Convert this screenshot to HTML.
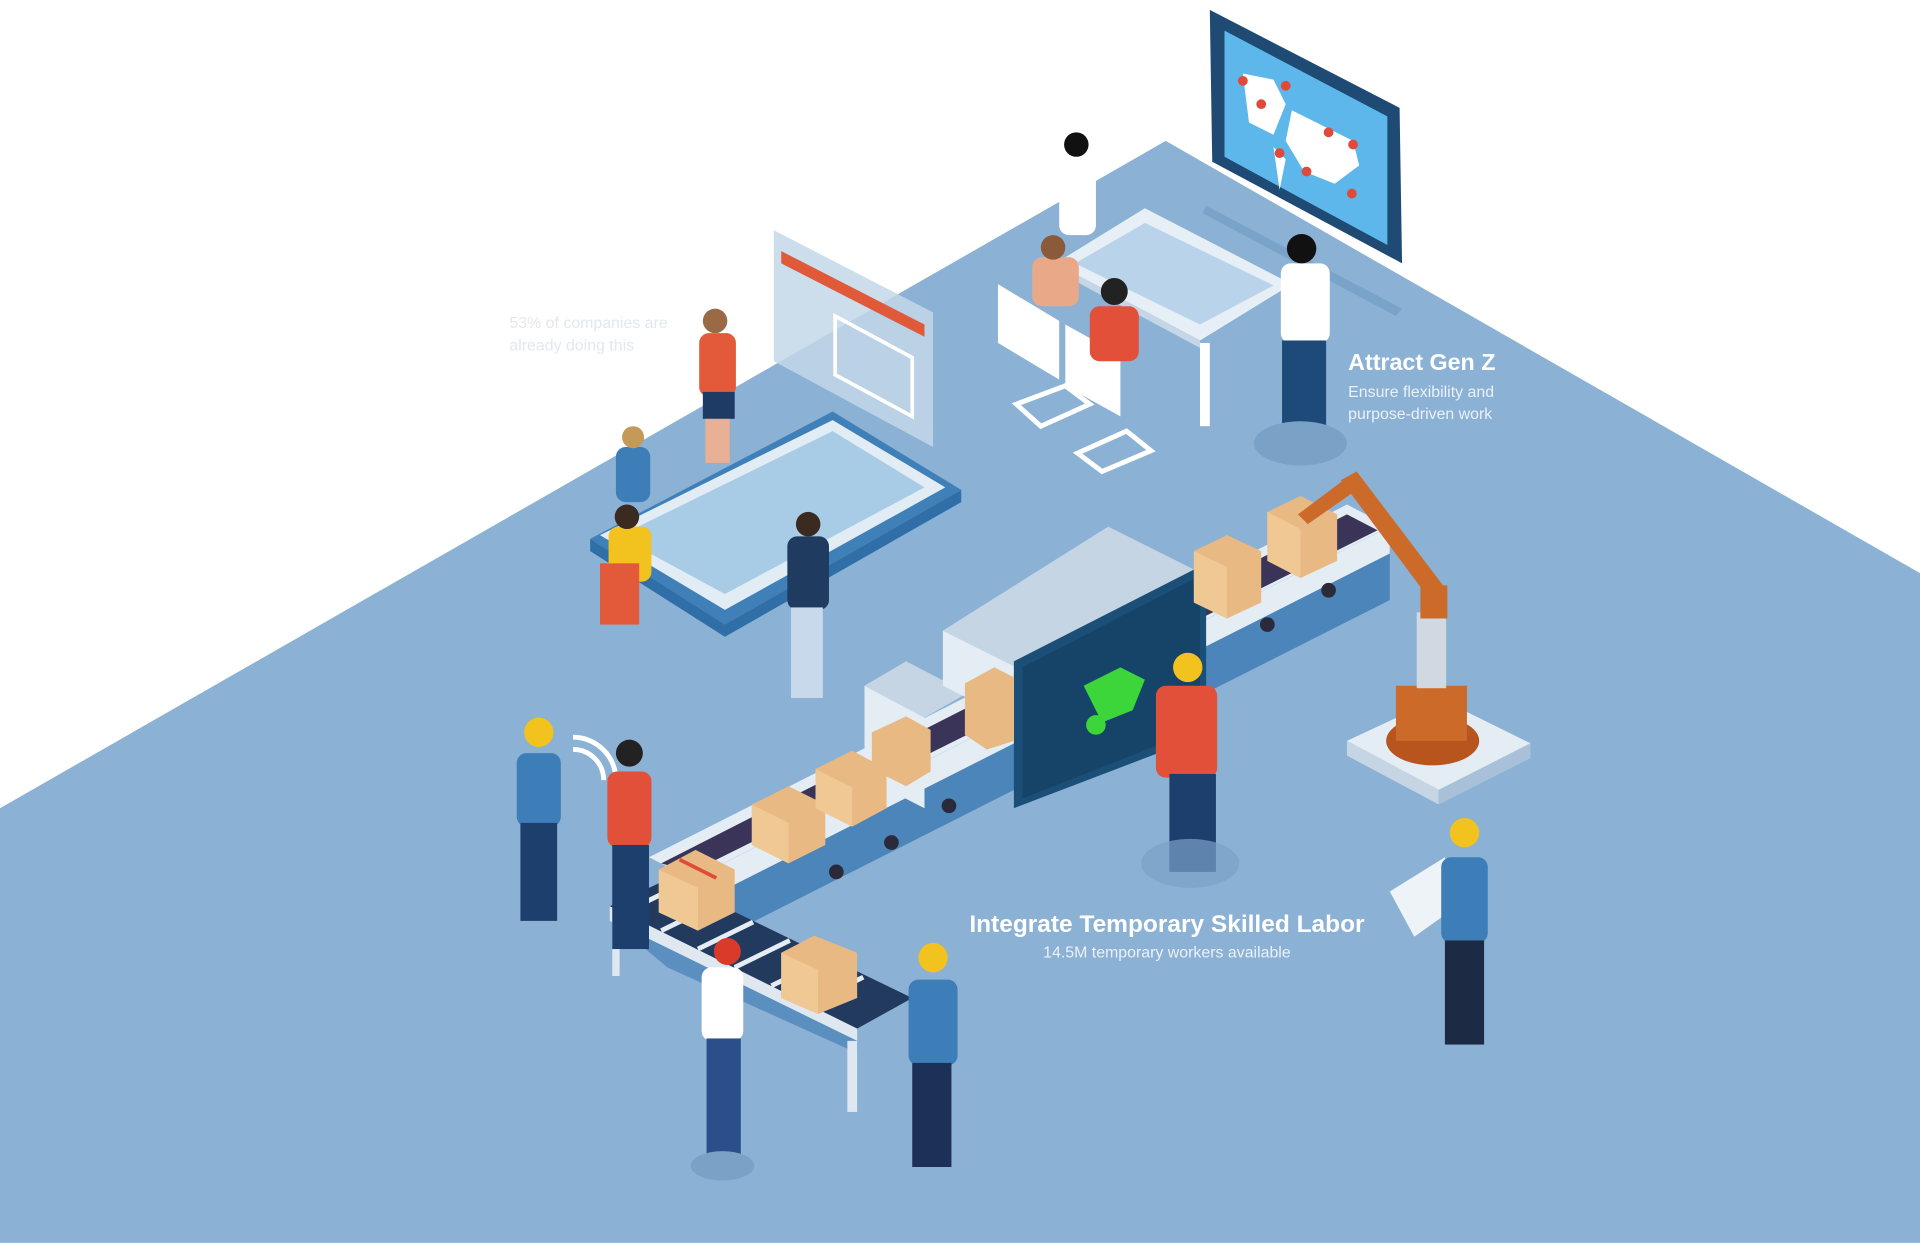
<!DOCTYPE html>
<html><head><meta charset="utf-8"><style>
html,body{margin:0;padding:0;background:#fff;}
svg{display:block;}
text{font-family:"Liberation Sans",sans-serif;}
</style></head><body>
<svg width="1920" height="1243" viewBox="0 0 1568 1015" xmlns="http://www.w3.org/2000/svg">
<rect width="1568" height="1015" fill="#fff"/>
<polygon points="952,115 1568,468 1568,1015 0,1015 0,660" fill="#8bb1d5"/>
<polygon points="985,168 1145,252 1140,258 982,174" fill="#7aa3c9"/>
<polygon points="988,8 1143,88 1145,215 990,132" fill="#1f4a73"/>
<polygon points="1000,25 1133,95 1133,200 1000,128" fill="#5db7ea"/>
<path d="M1015,60 l25,5 l10,20 l-10,25 l-20,-10 z M1055,90 l50,25 l5,20 l-20,15 l-25,-10 l-15,-25 z M1040,120 l10,10 l-5,25 z" fill="#fff"/>
<g fill="#e04a3a"><circle cx="1015" cy="66" r="4"/><circle cx="1050" cy="70" r="4"/><circle cx="1030" cy="85" r="4"/><circle cx="1085" cy="108" r="4"/><circle cx="1105" cy="118" r="4"/><circle cx="1045" cy="125" r="4"/><circle cx="1067" cy="140" r="4"/><circle cx="1104" cy="158" r="4"/></g>
<polygon points="862,215 935,170 1055,232 980,278" fill="#e6eef6"/>
<polygon points="878,215 935,182 1040,233 980,265" fill="#b9d4ea"/>
<polygon points="862,215 980,278 980,284 862,221" fill="#c5d6e6"/>
<rect x="980" y="280" width="8" height="68" fill="#fff"/>
<polygon points="815,232 865,262 865,310 815,280" fill="#fff"/>
<polygon points="870,265 915,290 915,340 870,315" fill="#fff"/>
<polygon points="830,330 870,315 890,330 850,348" fill="none" stroke="#fff" stroke-width="4"/>
<polygon points="880,370 920,352 940,368 900,385" fill="none" stroke="#fff" stroke-width="4"/>
<rect x="865" y="132" width="30" height="60" rx="8" fill="#fff"/><circle cx="879" cy="118" r="10" fill="#111"/>
<rect x="843" y="210" width="38" height="40" rx="8" fill="#e9a989"/><circle cx="860" cy="202" r="10" fill="#8a5a3a"/>
<rect x="890" y="250" width="40" height="45" rx="8" fill="#e2503a"/><circle cx="910" cy="238" r="11" fill="#222"/>
<rect x="1046" y="215" width="40" height="65" rx="8" fill="#fff"/><circle cx="1063" cy="203" r="12" fill="#111"/>
<rect x="1047" y="278" width="36" height="85" fill="#1d4a78"/>
<ellipse cx="1062" cy="362" rx="38" ry="18" fill="#7aa1c6"/>
<polygon points="632,188 762,255 762,365 632,295" fill="#c3d7e9" opacity="0.85"/>
<polygon points="638,205 755,265 755,275 638,215" fill="#e05a3a"/>
<polygon points="682,258 745,292 745,340 682,306" fill="none" stroke="#fff" stroke-width="3"/>
<rect x="571" y="272" width="30" height="52" rx="8" fill="#e35a3a"/><circle cx="584" cy="262" r="10" fill="#9a6a45"/>
<rect x="574" y="320" width="26" height="22" fill="#1e3b66"/>
<rect x="576" y="342" width="20" height="36" fill="#e8b095"/>
<polygon points="482,440 680,336 785,400 592,510" fill="#3f80b8"/>
<polygon points="490,437 680,343 772,398 592,498" fill="#e1ecf5"/>
<polygon points="505,438 680,352 755,398 592,485" fill="#a8cbe6"/>
<polygon points="592,510 785,400 785,410 592,520 482,450 482,440" fill="#2f6ea6"/>
<rect x="503" y="365" width="28" height="45" rx="8" fill="#3d7db8"/><circle cx="517" cy="357" r="9" fill="#c49a5a"/>
<rect x="497" y="430" width="35" height="45" rx="8" fill="#f2c21e"/><circle cx="512" cy="422" r="10" fill="#3a2a20"/>
<rect x="490" y="460" width="32" height="50" fill="#e35a3a"/>
<rect x="643" y="438" width="34" height="60" rx="8" fill="#1f3b60"/><circle cx="660" cy="428" r="10" fill="#3a2a20"/>
<rect x="646" y="496" width="26" height="74" fill="#c7d9ea"/>
<polygon points="530,700 1100,412 1135,430 565,718" fill="#e4ecf4"/>
<polygon points="540,705 1100,420 1125,433 565,712" fill="#3a3558"/>
<polygon points="565,718 1135,430 1135,490 565,778" fill="#4b85ba"/>
<polygon points="565,718 1135,430 1135,452 565,740" fill="#e4ecf4"/>
<g fill="#2a2a3a"><circle cx="683" cy="712" r="6"/><circle cx="728" cy="688" r="6"/><circle cx="775" cy="658" r="6"/><circle cx="1035" cy="510" r="6"/><circle cx="1085" cy="482" r="6"/></g>
<polygon points="498,740 545,718 745,815 700,840" fill="#213a5e"/>
<g stroke="#e4ecf4" stroke-width="4"><line x1="510" y1="745" x2="555" y2="723"/><line x1="540" y1="760" x2="585" y2="738"/><line x1="570" y1="775" x2="615" y2="753"/><line x1="600" y1="790" x2="645" y2="768"/><line x1="630" y1="805" x2="675" y2="783"/><line x1="660" y1="820" x2="705" y2="798"/></g>
<polygon points="498,740 700,840 700,850 498,752" fill="#dfe8f1"/>
<polygon points="500,752 700,850 700,860 545,790" fill="#5a8fc0"/>
<rect x="692" y="850" width="8" height="58" fill="#dfe8f1"/>
<rect x="500" y="752" width="6" height="45" fill="#dfe8f1"/>
<polygon points="706,560 740,540 790,566 755,586" fill="#c6d5e4"/>
<polygon points="706,560 755,586 755,660 706,635" fill="#e4ecf4"/>
<polygon points="770,515 905,430 985,470 850,555" fill="#c6d5e4"/>
<polygon points="770,515 850,555 850,600 770,560" fill="#e4ecf4"/>
<polygon points="828,540 985,460 985,600 828,660" fill="#1c4f78"/>
<polygon points="835,545 980,470 980,595 835,652" fill="#164468"/>
<path d="M885,560 l30,-15 l20,10 l-10,25 l-25,10 z" fill="#3dd63a"/>
<circle cx="895" cy="592" r="8" fill="#3dd63a"/>
<g>
<polygon points="538,710 568,694 600,710 600,745 570,760 538,745" fill="#e8b982"/><polygon points="538,710 570,725 570,760 538,745" fill="#f0c894"/><line x1="555" y1="702" x2="585" y2="717" stroke="#e04a3a" stroke-width="3"/>
<polygon points="614,657 644,642 674,657 674,690 644,705 614,690" fill="#e8b982"/><polygon points="614,657 644,672 644,705 614,690" fill="#f0c894"/>
<polygon points="666,628 696,613 724,628 724,660 696,675 666,660" fill="#e8b982"/><polygon points="666,628 696,643 696,675 666,660" fill="#f0c894"/>
<polygon points="712,598 740,585 760,596 760,630 740,642 712,628" fill="#e8b982"/>
<polygon points="788,558 812,545 828,553 828,605 806,612 788,600" fill="#e8b982"/>
<polygon points="975,450 1002,437 1030,450 1030,492 1002,505 975,492" fill="#e8b982"/><polygon points="975,450 1002,463 1002,505 975,492" fill="#f0c894"/>
<polygon points="1035,418 1062,405 1092,420 1092,458 1062,472 1035,458" fill="#e8b982"/><polygon points="1035,418 1062,432 1062,472 1035,458" fill="#f0c894"/>
<polygon points="638,778 665,764 700,778 700,815 668,828 638,815" fill="#e8b982"/><polygon points="638,778 668,792 668,828 638,815" fill="#f0c894"/>
</g>
<polygon points="1100,605 1175,570 1250,607 1175,645" fill="#e4ecf4"/>
<polygon points="1100,605 1175,645 1175,657 1100,617" fill="#c6d5e4"/>
<polygon points="1175,645 1250,607 1250,619 1175,657" fill="#a9c1d8"/>
<ellipse cx="1170" cy="605" rx="38" ry="20" fill="#b8541e"/>
<rect x="1140" y="560" width="58" height="45" fill="#cc6a2a"/>
<rect x="1157" y="500" width="24" height="62" fill="#d0d8e2"/>
<polygon points="1095,392 1108,385 1180,480 1168,490" fill="#cc6a2a"/>
<polygon points="1160,478 1182,478 1182,505 1160,505" fill="#cc6a2a"/>
<polygon points="1060,420 1100,390 1108,400 1068,428" fill="#cc6a2a"/>
<rect x="944" y="560" width="50" height="75" rx="8" fill="#e2503a"/><circle cx="970" cy="545" r="12" fill="#f2c21e"/>
<rect x="955" y="632" width="38" height="80" fill="#1d3f6e"/>
<ellipse cx="972" cy="705" rx="40" ry="20" fill="#7aa1c6" opacity="0.7"/>
<rect x="422" y="615" width="36" height="60" rx="8" fill="#3d7db8"/><circle cx="440" cy="598" r="12" fill="#f2c21e"/>
<rect x="425" y="672" width="30" height="80" fill="#1d3f6e"/>
<path d="M468,612 a25,25 0 0 1 25,25 M468,602 a35,35 0 0 1 35,35" stroke="#fff" stroke-width="4" fill="none"/>
<rect x="496" y="630" width="36" height="62" rx="8" fill="#e2503a"/><circle cx="514" cy="615" r="11" fill="#222"/>
<rect x="500" y="690" width="30" height="85" fill="#1d3f6e"/>
<rect x="573" y="790" width="34" height="60" rx="8" fill="#fff"/><circle cx="594" cy="777" r="11" fill="#d93a2a"/>
<rect x="577" y="848" width="28" height="95" fill="#2b4f8a"/>
<ellipse cx="590" cy="952" rx="26" ry="12" fill="#7aa1c6"/>
<rect x="742" y="800" width="40" height="70" rx="8" fill="#3d7db8"/><circle cx="762" cy="782" r="12" fill="#f2c21e"/>
<rect x="745" y="868" width="32" height="85" fill="#1d3158"/>
<polygon points="1135,728 1180,700 1190,740 1155,765" fill="#eef3f8"/>
<rect x="1177" y="700" width="38" height="70" rx="8" fill="#3d7db8"/><circle cx="1196" cy="680" r="12" fill="#f2c21e"/>
<rect x="1180" y="768" width="32" height="85" fill="#1d2a44"/>
<text x="416" y="268" font-size="13" fill="#e1e8ef">53% of companies are</text>
<text x="416" y="286" font-size="13" fill="#e1e8ef">already doing this</text>
<text x="1101" y="302" font-size="19" font-weight="bold" fill="#fff">Attract Gen Z</text>
<text x="1101" y="324" font-size="13" fill="#eaf1f8">Ensure flexibility and</text>
<text x="1101" y="342" font-size="13" fill="#eaf1f8">purpose-driven work</text>
<text x="953" y="761" font-size="20" font-weight="bold" fill="#fff" text-anchor="middle">Integrate Temporary Skilled Labor</text>
<text x="953" y="782" font-size="13" fill="#eaf1f8" text-anchor="middle">14.5M temporary workers available</text>
</svg>
</body></html>
